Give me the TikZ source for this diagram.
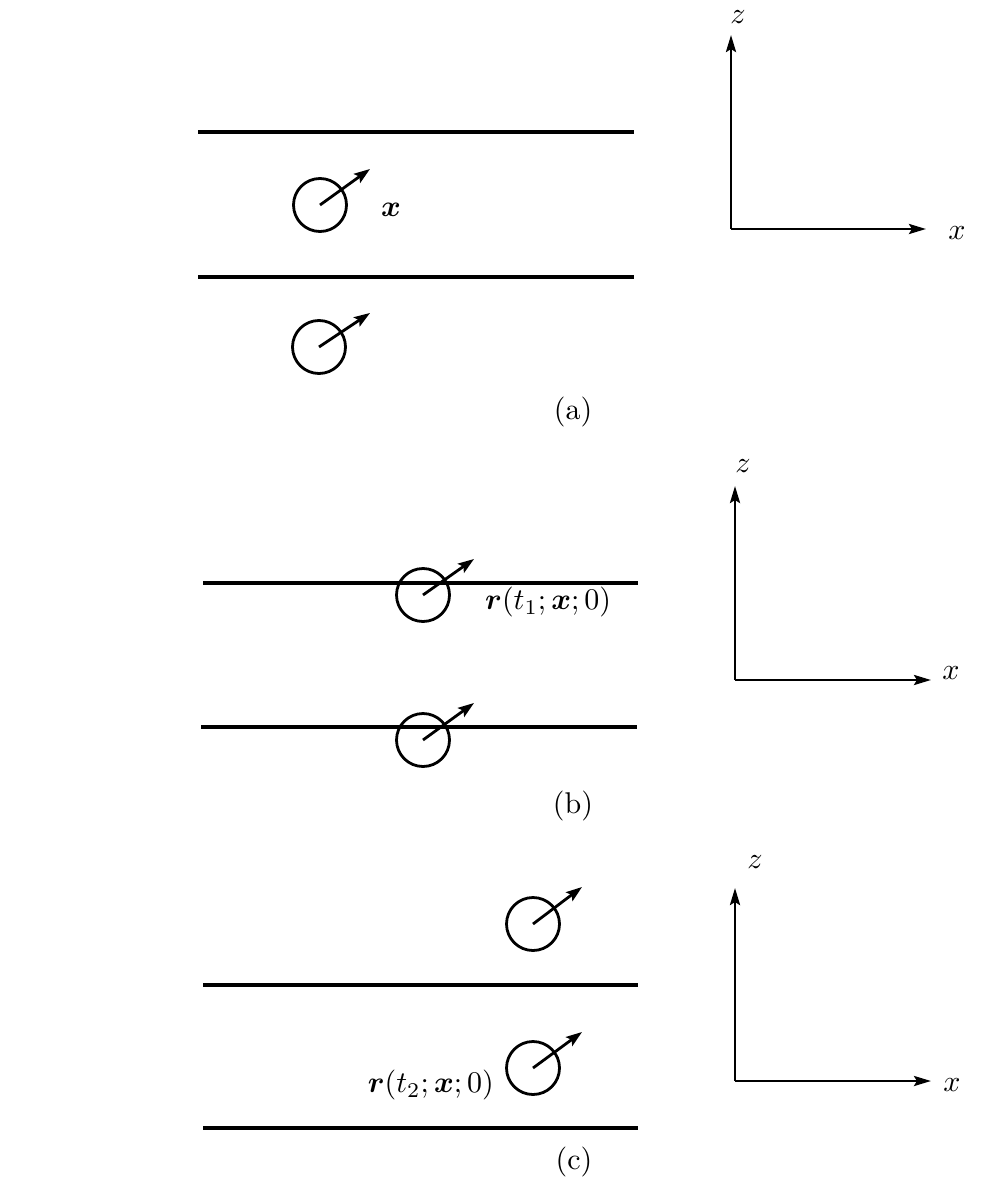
\documentclass[tikz,border=0pt]{standalone}
\usepackage{amsmath}
\usepackage{graphicx}
\usetikzlibrary{arrows.meta}
\newcommand{\bigtext}[1]{\scalebox{3}{#1}}
\tikzset{
  wall/.style={line width=3.2pt},
  ball/.style={circle, draw, line width=2.8pt, minimum size=53pt, inner sep=0pt},
  vec/.style={line width=2.8pt, -{Stealth[length=16pt,width=11pt,inset=3pt]}},
  axis/.style={line width=2.8pt, -{Stealth[length=17pt,width=10pt,inset=3pt]}},
  lab/.style={inner sep=0pt},
}
\begin{document}
\begin{tikzpicture}[x=1pt,y=-1pt]
\useasboundingbox (0,0) rectangle (1006,1190);

% ---------- panel (a) ----------
\coordinate (aL1) at (198,132); \coordinate (aR1) at (634,132);
\coordinate (aL2) at (198,277); \coordinate (aR2) at (634,277);
\draw[wall] (aL1) -- (aR1);
\draw[wall] (aL2) -- (aR2);
\node[ball] (a1) at (320,205) {};
\coordinate (a1t) at (370,169);
\draw[vec] (a1.center) -- (a1t);
\node[ball] (a2) at (319,347) {};
\coordinate (a2t) at (370,313);
\draw[vec] (a2.center) -- (a2t);
\node[lab] (ax) at (391,210) {\bigtext{$\boldsymbol{x}$}};
\coordinate (aO) at (731,229);
\coordinate (aZ) at (731,35);
\coordinate (aX) at (926,229);
\draw[axis] (aO) -- (aZ);
\draw[axis] (aO) -- (aX);
\node[lab] (azl) at (738,17) {\bigtext{$z$}};
\node[lab] (axl) at (957,233) {\bigtext{$x$}};
\node[lab] (acap) at (573,412) {\bigtext{(a)}};

% ---------- panel (b) ----------
\coordinate (bL1) at (203,583); \coordinate (bR1) at (638,583);
\coordinate (bL2) at (201,727); \coordinate (bR2) at (637,727);
\draw[wall] (bL1) -- (bR1);
\draw[wall] (bL2) -- (bR2);
\node[ball] (b1) at (423,595) {};
\coordinate (b1t) at (474,559);
\draw[vec] (b1.center) -- (b1t);
\node[ball] (b2) at (423,740) {};
\coordinate (b2t) at (474,703);
\draw[vec] (b2.center) -- (b2t);
\node[lab, anchor=west] (br) at (485,602) {\bigtext{$\boldsymbol{r}(t_1;\boldsymbol{x};0)$}};
\coordinate (bO) at (735,680);
\coordinate (bZ) at (735,486);
\coordinate (bX) at (931,680);
\draw[axis] (bO) -- (bZ);
\draw[axis] (bO) -- (bX);
\node[lab] (bzl) at (743,466) {\bigtext{$z$}};
\node[lab] (bxl) at (951,673) {\bigtext{$x$}};
\node[lab] (bcap) at (573,806) {\bigtext{(b)}};

% ---------- panel (c) ----------
\coordinate (cL1) at (203,985); \coordinate (cR1) at (638,985);
\coordinate (cL2) at (203,1128); \coordinate (cR2) at (638,1128);
\draw[wall] (cL1) -- (cR1);
\draw[wall] (cL2) -- (cR2);
\node[ball] (c1) at (533,924) {};
\coordinate (c1t) at (582,887);
\draw[vec] (c1.center) -- (c1t);
\node[ball] (c2) at (533,1068) {};
\coordinate (c2t) at (582,1032);
\draw[vec] (c2.center) -- (c2t);
\node[lab, anchor=east] (cr) at (494,1085) {\bigtext{$\boldsymbol{r}(t_2;\boldsymbol{x};0)$}};
\coordinate (cO) at (735,1081);
\coordinate (cZ) at (735,888);
\coordinate (cX) at (931,1081);
\draw[axis] (cO) -- (cZ);
\draw[axis] (cO) -- (cX);
\node[lab] (czl) at (755,862) {\bigtext{$z$}};
\node[lab] (cxl) at (952,1085) {\bigtext{$x$}};
\node[lab] (ccap) at (574,1162) {\bigtext{(c)}};
\end{tikzpicture}
\end{document}
